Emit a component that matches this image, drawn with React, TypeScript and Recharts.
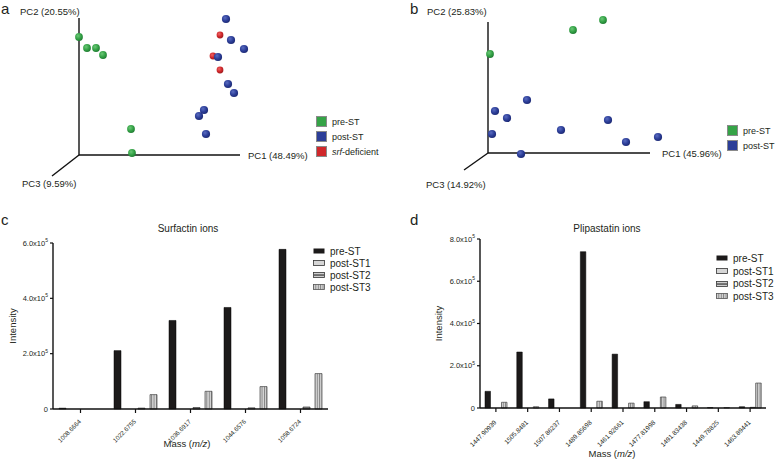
import React from "react";
import {
  Bar,
  BarChart,
  Legend,
  ReferenceLine,
  Scatter,
  ScatterChart,
  XAxis,
  YAxis,
} from "recharts";

const FONT = "'Liberation Sans', Arial, Helvetica, sans-serif";
const INK = "#231f20";
const GREEN = "#35a347";
const BLUE = "#2c3e98";
const RED = "#d0282b";

// ---- a / b : PCA scores (PC1, PC2) ----
const aPreST: [number, number][] = [
  [0, 5.9], [0.4, 5.35], [0.85, 5.35], [1.2, 5.0], [2.6, 1.3], [2.65, 0.1],
];
const aPostST: [number, number][] = [
  [7.35, 6.8], [7.6, 5.75], [8.25, 5.3], [6.95, 4.9], [7.45, 3.55],
  [7.75, 3.1], [6.25, 2.25], [6.0, 1.95], [6.35, 1.05],
];
const aSrfDeficient: [number, number][] = [[7.05, 6.0], [6.7, 4.95], [7.05, 4.25]];
const aAxisLabels = ["PC1 (48.49%)", "PC2 (20.55%)", "PC3 (9.59%)"];

const bPreST: [number, number][] = [[0.1, 4.95], [4.25, 6.15], [5.75, 6.65]];
const bPostST: [number, number][] = [
  [1.95, 2.65], [0.35, 2.1], [0.95, 1.75], [0.2, 0.95], [3.65, 1.15],
  [6.0, 1.65], [6.9, 0.55], [8.5, 0.8], [1.65, -0.05],
];
const bAxisLabels = ["PC1 (45.96%)", "PC2 (25.83%)", "PC3 (14.92%)"];

// ---- c : surfactin ions ----
const surfactinMass = ["1008.6664", "1022.6755", "1036.6917", "1044.6576", "1058.6724"];
const surfactinPre = [3000, 211000, 320000, 367000, 577000];
const surfactinPost1 = [0, 0, 0, 0, 0];
const surfactinPost2 = [0, 3000, 5000, 4000, 7000];
const surfactinPost3 = [0, 52000, 64000, 81000, 128000];
const surfactinTicks = [0, 200000, 400000, 600000];

// ---- d : plipastatin ions ----
const plipastatinMass = [
  "1447.90939", "1505.8481", "1507.86237", "1489.85698", "1461.92661",
  "1477.81998", "1491.83438", "1449.78825", "1463.89441",
];
const plipastatinPre = [79000, 265000, 43000, 740000, 255000, 30000, 17000, 2000, 6000];
const plipastatinPost1 = [0, 0, 0, 0, 0, 0, 0, 0, 0];
const plipastatinPost2 = [0, 0, 0, 0, 0, 0, 0, 0, 3000];
const plipastatinPost3 = [27000, 6000, 0, 32000, 23000, 52000, 10000, 2000, 118000];
const plipastatinTicks = [0, 200000, 400000, 600000, 800000];

const toPoints = (arr: [number, number][]) => arr.map(([pc1, pc2]) => ({ pc1, pc2 }));

const buildRows = (mass: string[], pre: number[], p1: number[], p2: number[], p3: number[]) =>
  mass.map((m, i) => ({ mass: m, pre: pre[i], post1: p1[i], post2: p2[i], post3: p3[i] }));

const surfactinData = buildRows(surfactinMass, surfactinPre, surfactinPost1, surfactinPost2, surfactinPost3);
const plipastatinData = buildRows(plipastatinMass, plipastatinPre, plipastatinPost1, plipastatinPost2, plipastatinPost3);

function SharedDefs() {
  const sph = (id: string, hi: string, mid: string, lo: string) => (
    <radialGradient id={id} cx="38%" cy="35%" r="70%">
      <stop offset="0%" stopColor={hi} />
      <stop offset="55%" stopColor={mid} />
      <stop offset="100%" stopColor={lo} />
    </radialGradient>
  );
  return (
    <svg width={0} height={0} style={{ position: "absolute" }}>
      <defs>
        {sph("sph-green", "#6cc777", GREEN, "#1f7a31")}
        {sph("sph-blue", "#5a6cc0", BLUE, "#1b2770")}
        {sph("sph-red", "#ee6466", RED, "#9a1a1d")}
        <pattern id="vstripes" width={2.4} height={10} patternUnits="userSpaceOnUse">
          <rect width={2.4} height={10} fill="#d6d6d6" />
          <rect width={0.9} height={10} fill="#7d7d7d" />
        </pattern>
      </defs>
    </svg>
  );
}

const sphere = (r: number, grad: string) => (props: any) =>
  <circle cx={props.cx} cy={props.cy} r={r} fill={`url(#${grad})`} />;

type LegendRow = { label: React.ReactNode; color: string };

const squareLegend = (rows: LegendRow[]) => () => (
  <div style={{ fontFamily: FONT, fontSize: 9, color: INK, whiteSpace: "nowrap" }}>
    {rows.map((r, i) => (
      <div key={i} style={{ display: "flex", alignItems: "center", height: 15 }}>
        <span
          style={{
            width: 9,
            height: 9,
            flex: "none",
            background: r.color,
            border: "0.5px solid #8a8a8a",
            marginRight: 5,
          }}
        />
        <span>{r.label}</span>
      </div>
    ))}
  </div>
);

function PcaPanel({
  left,
  width,
  xDomain,
  yDomain,
  ends,
  groups,
  legend,
  legendPos,
}: {
  left: number;
  width: number;
  xDomain: [number, number];
  yDomain: [number, number];
  ends: [number, number][];
  groups: { data: [number, number][]; grad: string; r: number }[];
  legend: LegendRow[];
  legendPos: { left: number; top: number };
}) {
  return (
    <div style={{ position: "absolute", left, top: 0 }}>
      <ScatterChart width={width} height={220} margin={{ top: 0, right: 0, bottom: 0, left: 0 }}>
        <XAxis type="number" dataKey="pc1" domain={xDomain} allowDataOverflow hide />
        <YAxis type="number" dataKey="pc2" domain={yDomain} allowDataOverflow hide width={0} />
        {ends.map(([x, y], i) => (
          <ReferenceLine
            key={i}
            segment={[{ x: 0, y: 0 }, { x, y }]}
            stroke="#111"
            strokeWidth={1.4}
            ifOverflow="visible"
          />
        ))}
        {groups.map((g, i) => (
          <Scatter
            key={i}
            data={toPoints(g.data)}
            shape={sphere(g.r, g.grad)}
            isAnimationActive={false}
          />
        ))}
        <Legend
          layout="vertical"
          align="center"
          verticalAlign="middle"
          content={squareLegend(legend)}
          wrapperStyle={{ left: legendPos.left, top: legendPos.top, width: "auto" }}
        />
      </ScatterChart>
    </div>
  );
}

const IntensityTick = ({ x, y, payload }: any) => {
  const v = payload.value as number;
  return (
    <text x={x} y={y} dy="0.35em" textAnchor="end" fontSize={7.5} fill={INK} fontFamily={FONT}>
      {v === 0 ? "0" : (v / 1e5).toFixed(1) + "x10"}
      {v === 0 ? null : (
        <tspan dy={-3.5} fontSize={5}>5</tspan>
      )}
    </text>
  );
};

const MassTick = ({ x, y, payload, dy, fs }: any) => (
  <g transform={`translate(${x + 1},${y + dy})`}>
    <text x={0} y={0} textAnchor="end" transform="rotate(-45)" fontSize={fs} fill={INK} fontFamily={FONT}>
      {payload.value}
    </text>
  </g>
);

const YLabel = ({ viewBox, dx }: any) => {
  const cx = viewBox.x + dx;
  const cy = viewBox.y + viewBox.height / 2;
  return (
    <text
      x={cx}
      y={cy}
      transform={`rotate(-90 ${cx} ${cy})`}
      textAnchor="middle"
      dominantBaseline="central"
      fontSize={9.5}
      fill={INK}
      fontFamily={FONT}
    >
      Intensity
    </text>
  );
};

const XLabel = ({ viewBox, dx, dy }: any) => (
  <text
    x={viewBox.x + viewBox.width / 2 + dx}
    y={viewBox.y + dy}
    textAnchor="middle"
    dominantBaseline="central"
    fontSize={9.5}
    fill={INK}
    fontFamily={FONT}
  >
    Mass (<tspan fontStyle="italic">m/z</tspan>)
  </text>
);

const seriesNames = ["pre-ST", "post-ST1", "post-ST2", "post-ST3"];

const BarIcon = ({ i }: { i: number }) => (
  <svg width={12} height={6} style={{ marginRight: 5, flex: "none" }}>
    {i === 0 && <rect x={0.5} y={0.5} width={11} height={5} fill="#1c1a1a" />}
    {i === 1 && <rect x={0.5} y={0.5} width={11} height={5} fill="#d6d6d6" stroke="#333" strokeWidth={0.8} />}
    {i === 2 && (
      <>
        <rect x={0.5} y={0.5} width={11} height={5} fill="#cfcfcf" stroke="#333" strokeWidth={0.8} />
        <rect x={0.5} y={2.3} width={11} height={1.5} fill="#555" />
      </>
    )}
    {i === 3 && <rect x={0.5} y={0.5} width={11} height={5} fill="url(#vstripes)" stroke="#555" strokeWidth={0.8} />}
  </svg>
);

const barLegend = (rowH: number) => () => (
  <div style={{ fontFamily: FONT, fontSize: 10, color: INK, whiteSpace: "nowrap" }}>
    {seriesNames.map((n, i) => (
      <div key={n} style={{ display: "flex", alignItems: "center", height: rowH }}>
        <BarIcon i={i} />
        <span>{n}</span>
      </div>
    ))}
  </div>
);

function IonBars({
  left,
  width,
  data,
  ticks,
  margin,
  yWidth,
  xHeight,
  barSize,
  barGap,
  tickDy,
  tickFs,
  yLabelDx,
  xLabel,
  legendPos,
  legendRow,
}: any) {
  const axisStyle = { stroke: "#111", strokeWidth: 1.4 };
  return (
    <div style={{ position: "absolute", left, top: 230 }}>
      <BarChart width={width} height={229} data={data} margin={margin} barSize={barSize} barGap={barGap}>
        <XAxis
          dataKey="mass"
          height={xHeight}
          interval={0}
          tickSize={4}
          axisLine={axisStyle}
          tickLine={{ stroke: "#111", strokeWidth: 1.2 }}
          tick={<MassTick dy={tickDy} fs={tickFs} />}
          label={<XLabel dx={xLabel.dx} dy={xLabel.dy} />}
        />
        <YAxis
          width={yWidth}
          domain={[ticks[0], ticks[ticks.length - 1]]}
          ticks={ticks}
          interval={0}
          tickSize={3}
          axisLine={axisStyle}
          tickLine={{ stroke: "#111", strokeWidth: 1.2 }}
          tick={<IntensityTick />}
          label={<YLabel dx={yLabelDx} />}
        />
        <Bar dataKey="pre" fill="#1c1a1a" stroke="#000" strokeWidth={0.5} isAnimationActive={false} />
        <Bar dataKey="post1" fill="#d6d6d6" stroke="#333" strokeWidth={0.7} isAnimationActive={false} />
        <Bar dataKey="post2" fill="#9a9a9a" stroke="#222" strokeWidth={0.7} isAnimationActive={false} />
        <Bar dataKey="post3" fill="url(#vstripes)" stroke="#444" strokeWidth={0.7} isAnimationActive={false} />
        <Legend
          layout="vertical"
          align="center"
          verticalAlign="middle"
          content={barLegend(legendRow)}
          wrapperStyle={{ left: legendPos.left, top: legendPos.top, width: "auto" }}
        />
      </BarChart>
    </div>
  );
}

function FigureText() {
  const pc = (x: number, y: number, t: string) => (
    <text x={x} y={y} dominantBaseline="central" fontSize={9.5} fill={INK}>
      {t}
    </text>
  );
  return (
    <svg
      width={776}
      height={459}
      style={{ position: "absolute", left: 0, top: 0, pointerEvents: "none" }}
      fontFamily={FONT}
    >
      <text x={1} y={14} fontSize={15} fill={INK}>a</text>
      <text x={410} y={14} fontSize={15} fill={INK}>b</text>
      <text x={1} y={225} fontSize={15} fill={INK}>c</text>
      <text x={410} y={225} fontSize={15} fill={INK}>d</text>
      {pc(248, 155, aAxisLabels[0])}
      {pc(20, 11, aAxisLabels[1])}
      {pc(22, 183, aAxisLabels[2])}
      {pc(662, 153, bAxisLabels[0])}
      {pc(427, 11, bAxisLabels[1])}
      {pc(426, 184, bAxisLabels[2])}
      <text x={188} y={232} textAnchor="middle" fontSize={10} fill={INK}>Surfactin ions</text>
      <text x={607} y={232} textAnchor="middle" fontSize={10} fill={INK}>Plipastatin ions</text>
    </svg>
  );
}

export default function App() {
  return (
    <div
      style={{
        position: "absolute",
        left: 0,
        top: 0,
        width: 776,
        height: 459,
        background: "#fff",
        fontFamily: FONT,
        overflow: "hidden",
      }}
    >
      <SharedDefs />
      <PcaPanel
        left={0}
        width={390}
        xDomain={[-3.95, 15.55]}
        yDomain={[-3.25, 7.75]}
        ends={[[8.05, 0], [0, 6.85], [-1.35, -1.05]]}
        groups={[
          { data: aPreST, grad: "sph-green", r: 3.9 },
          { data: aSrfDeficient, grad: "sph-red", r: 3.4 },
          { data: aPostST, grad: "sph-blue", r: 4.1 },
        ]}
        legend={[
          { label: "pre-ST", color: GREEN },
          { label: "post-ST", color: BLUE },
          { label: <><i>srf</i>-deficient</>, color: RED },
        ]}
        legendPos={{ left: 316, top: 114 }}
      />
      <PcaPanel
        left={390}
        width={386}
        xDomain={[-4.9, 14.4]}
        yDomain={[-3.35, 7.65]}
        ends={[[8.1, 0], [0, 6.55], [-1.2, -0.85]]}
        groups={[
          { data: bPreST, grad: "sph-green", r: 3.9 },
          { data: bPostST, grad: "sph-blue", r: 4.1 },
        ]}
        legend={[
          { label: "pre-ST", color: GREEN },
          { label: "post-ST", color: BLUE },
        ]}
        legendPos={{ left: 337, top: 123 }}
      />
      <IonBars
        left={0}
        width={390}
        data={surfactinData}
        ticks={surfactinTicks}
        margin={{ top: 13, right: 62, left: 0, bottom: 0 }}
        yWidth={53}
        xHeight={50}
        barSize={7}
        barGap={5}
        tickDy={7}
        tickFs={6.3}
        yLabelDx={12}
        xLabel={{ dx: -3.5, dy: 34 }}
        legendPos={{ left: 313, top: 15 }}
        legendRow={12}
      />
      <IonBars
        left={390}
        width={386}
        data={plipastatinData}
        ticks={plipastatinTicks}
        margin={{ top: 9, right: 10, left: 0, bottom: 0 }}
        yWidth={90}
        xHeight={51}
        barSize={5.5}
        barGap={0}
        tickDy={9}
        tickFs={6.5}
        yLabelDx={48}
        xLabel={{ dx: -11, dy: 45 }}
        legendPos={{ left: 326, top: 22 }}
        legendRow={12.7}
      />
      <FigureText />
    </div>
  );
}
